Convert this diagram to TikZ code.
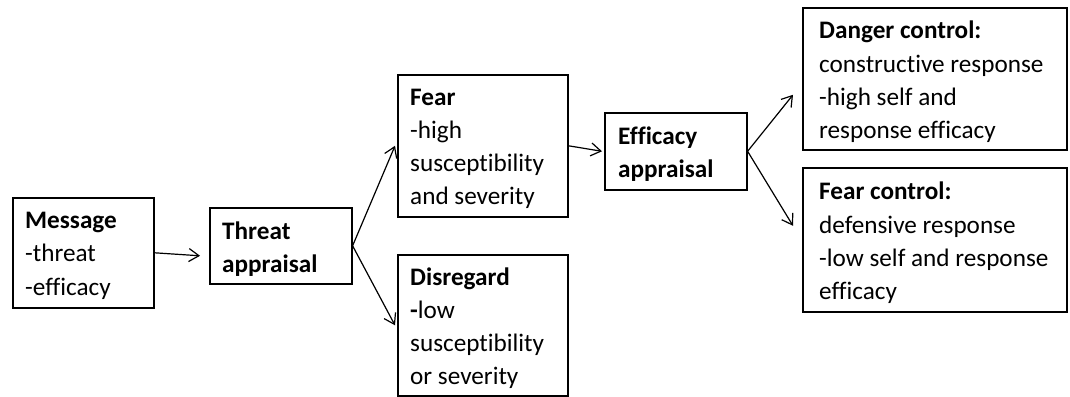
\documentclass[tikz,border=0pt]{standalone}
\usepackage{fontspec}
\setmainfont{Carlito}[Ligatures=NoCommon]
\usetikzlibrary{arrows.meta,positioning}
\tikzset{>={Straight Barb[length=10pt,width=13pt]}}

\begin{document}
\begin{tikzpicture}[x=1pt, y=-1pt, font=\fontsize{25.2}{33.2}\selectfont]
		\tikzset{stg/.style={draw,line width=1.6pt,anchor=north west,inner sep=0pt}}
		\tikzset{stgt/.style={align=left,inner sep=0pt,yshift=-3pt}}
		\tikzset{ar/.style={->,line width=1.2pt}}
		\useasboundingbox (0,0) rectangle (1070,396);

		% Message
		\node[stg,minimum width=141pt,minimum height=110pt] (message) at (12,197) {};
		\node[stgt,right=13pt] (message text) at (message.west) {\textbf{Message}\\-threat\\-efficacy};

		% Threat appraisal
		\node[stg,minimum width=142pt,minimum height=76pt] (threat) at (209,207) {};
		\node[stgt,right=13pt] (threat text) at (threat.west) {\textbf{Threat}\\\textbf{appraisal}};

		% Fear
		\node[stg,minimum width=170pt,minimum height=142pt] (fear) at (397,74) {};
		\node[stgt,right=13pt] (fear text) at (fear.west) {\textbf{Fear}\\-high\\susceptibility\\and severity};

		% Disregard
		\node[stg,minimum width=170pt,minimum height=141pt] (disregard) at (397,254) {};
		\node[stgt,right=13pt] (disregard text) at (disregard.west) {\textbf{Disregard}\\\textbf{-}low\\susceptibility\\or severity};

		% Efficacy appraisal
		\node[stg,minimum width=142pt,minimum height=77pt] (efficacy) at (604,112) {};
		\node[stgt,right=14pt] (efficacy text) at (efficacy.west) {\textbf{Efficacy}\\\textbf{appraisal}};

		% Danger control
		\node[stg,minimum width=264pt,minimum height=142pt] (danger) at (802,7) {};
		\node[stgt,right=17pt] (danger text) at (danger.west) {\textbf{Danger control:}\\constructive response\\-high self and\\response efficacy};

		% Fear control
		\node[stg,minimum width=264pt,minimum height=144pt] (fearctl) at (802,167) {};
		\node[stgt,right=17pt] (fearctl text) at (fearctl.west) {\textbf{Fear control:}\\defensive response\\-low self and response\\efficacy};

		% Arrows between stages
		\draw[ar] (message.east) -- ([xshift=-9pt,yshift=-10pt]threat.west);
		\draw[ar] (threat.east) -- ([xshift=-2pt]fear.west);
		\draw[ar] (threat.east) -- ([xshift=-2pt]disregard.west);
		\draw[ar] (fear.east) -- ([xshift=-2pt]efficacy.west);
		\draw[ar] (efficacy.east) -- ([xshift=-9pt,yshift=-16pt]danger.west);
		\draw[ar] (efficacy.east) -- ([xshift=-9pt,yshift=14pt]fearctl.west);
	\end{tikzpicture}
\end{document}
